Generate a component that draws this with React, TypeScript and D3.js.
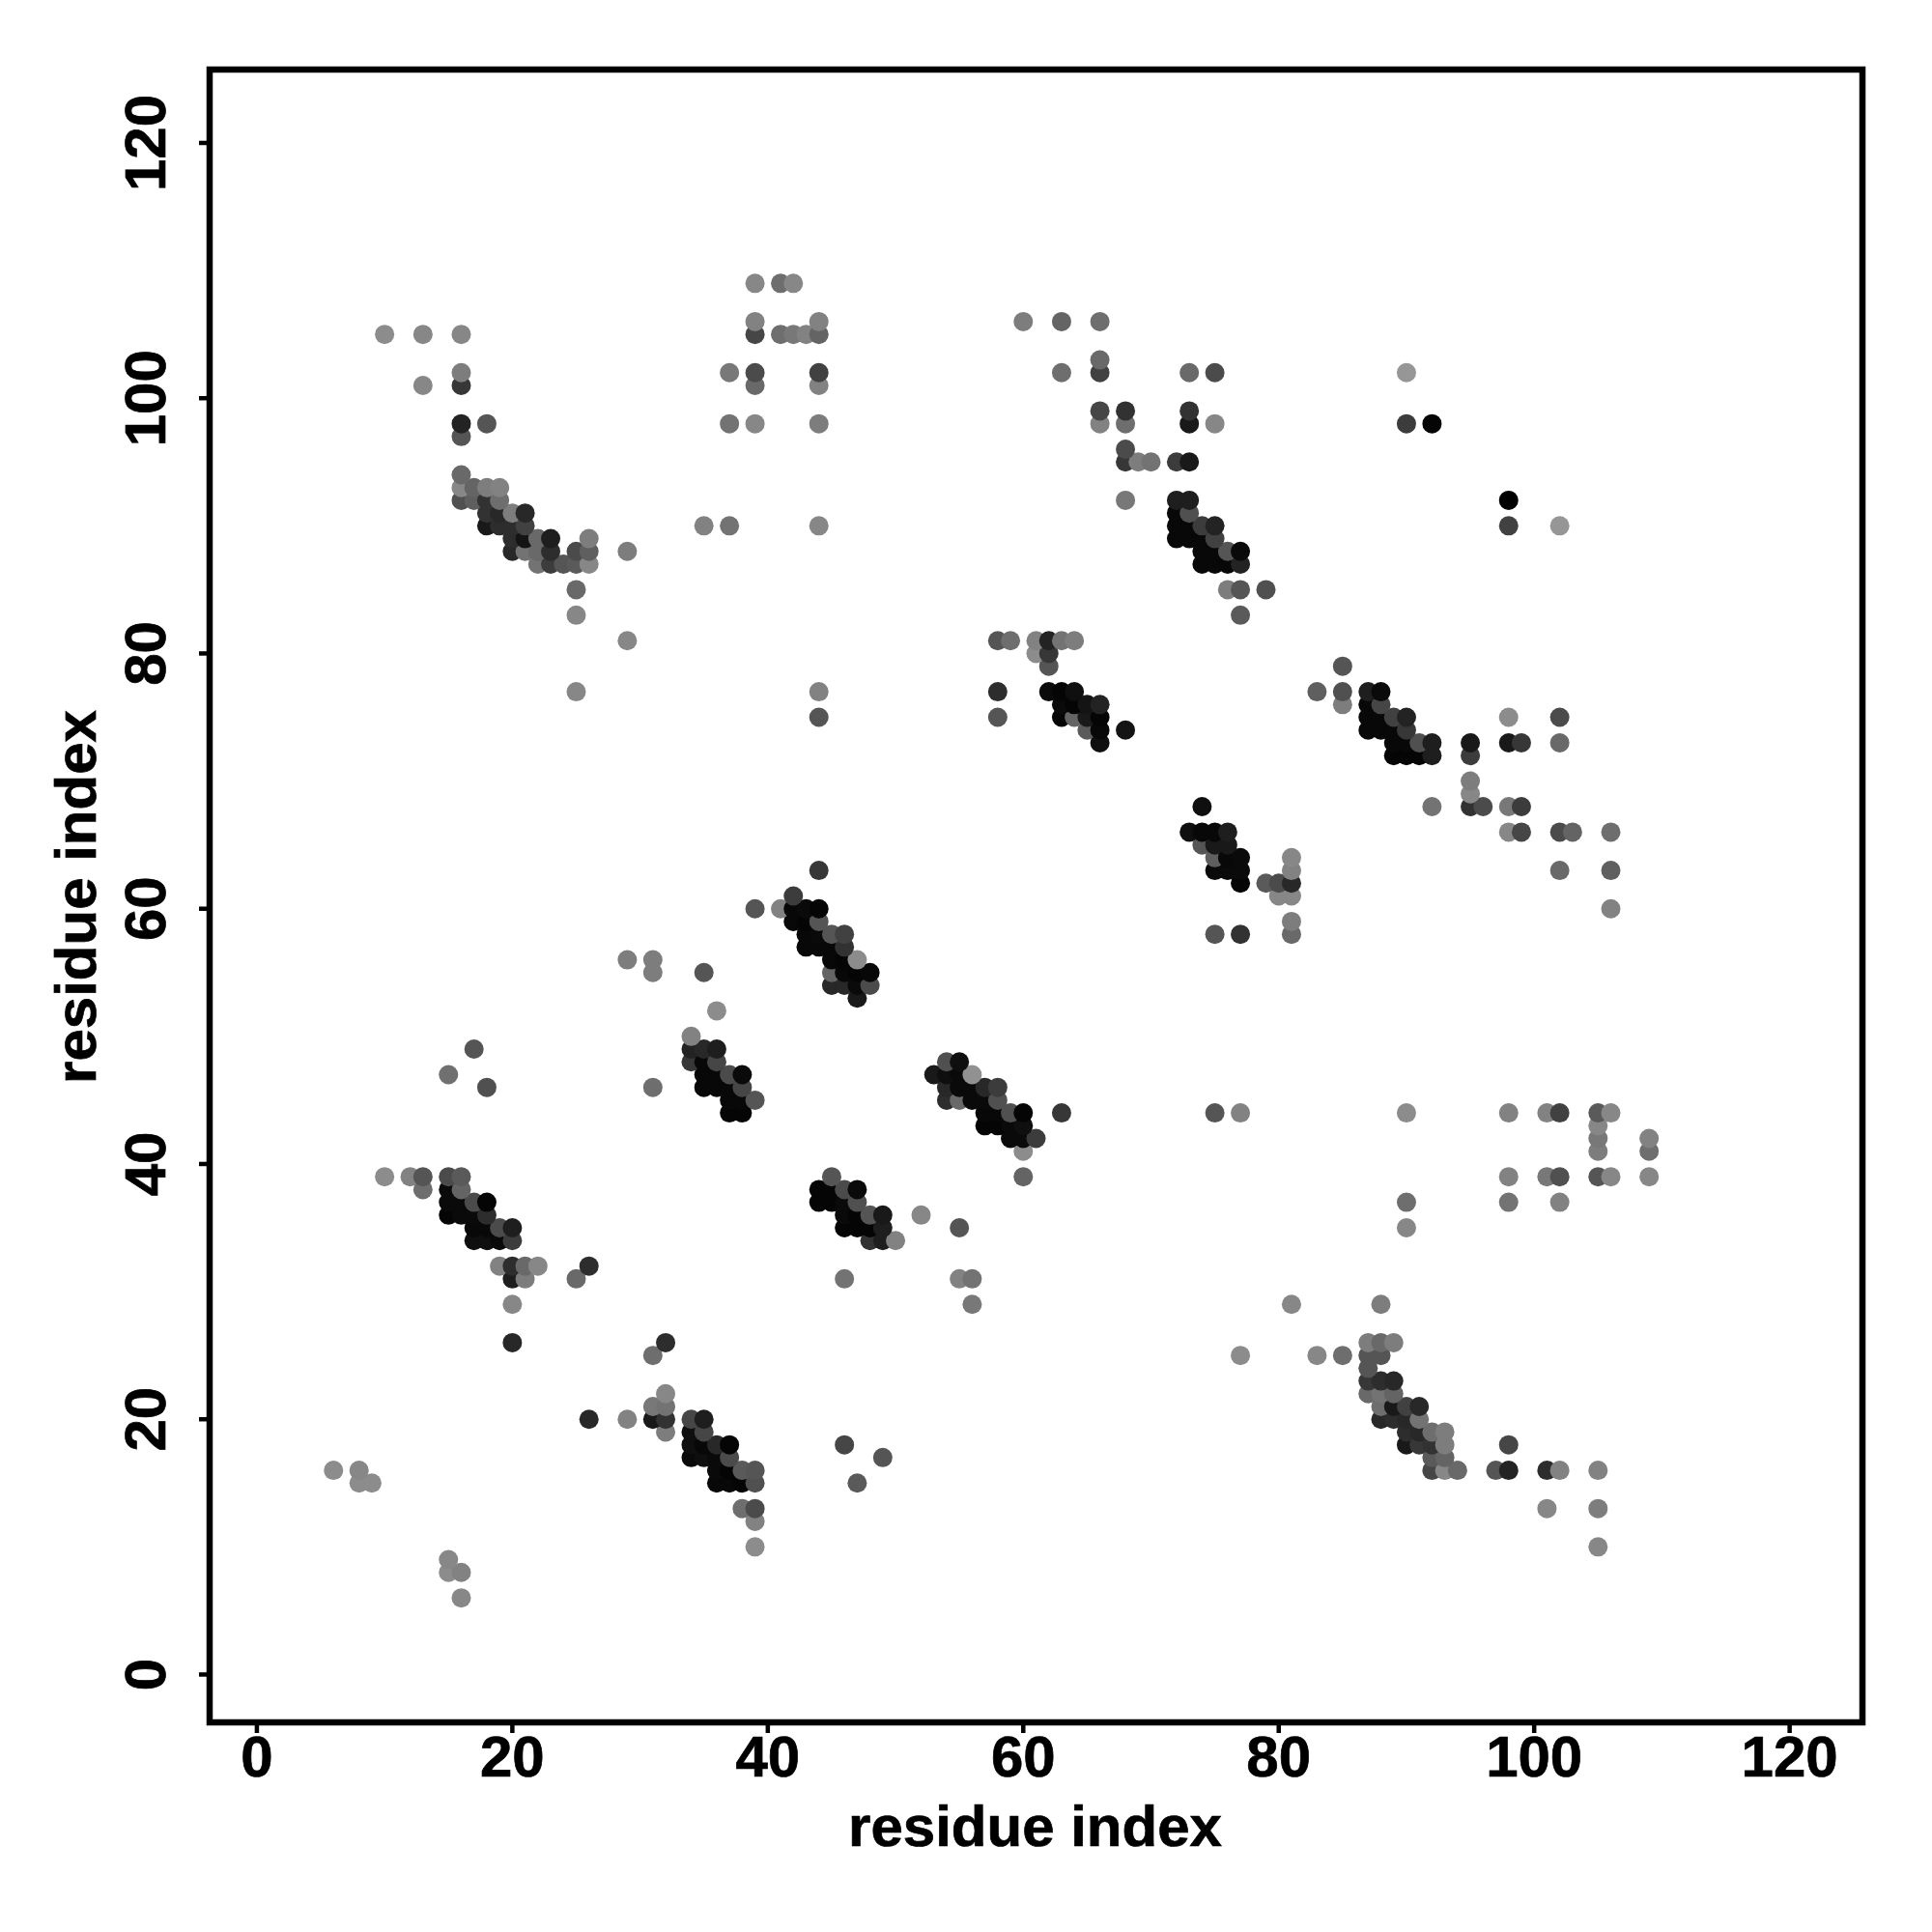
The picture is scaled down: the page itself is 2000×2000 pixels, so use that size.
import React from "react";
import * as d3 from "d3";

type C = [number, number, number];

const xTickValues = [0, 20, 40, 60, 80, 100, 120];
const yTickValues = [0, 20, 40, 60, 80, 100, 120];
const axisTitle = "residue index";

// each contact: residue i, residue j, grey level
const lowerLeft: C[] = [[6,16,140],[8,16,135],[8,15,140],[9,15,140],[15,9,135],[15,8,140],[16,8,130],[16,6,135],[15,47,112],[17,49,85],[18,46,80],[31,46,110],[36,52,140],[10,39,140],[12,39,130],[13,39,85],[13,38,110]];
const clusterE1: C[] = [[15,39,75],[16,39,90],[15,38,10],[16,38,100],[15,37,10],[16,37,10],[17,37,75],[18,37,5],[15,36,5],[16,36,10],[17,36,10],[18,36,45],[17,35,8],[18,35,8],[19,35,75],[20,35,30],[17,34,15],[18,34,15],[19,34,10],[20,34,60],[19,32,130],[20,32,45],[21,32,105],[22,32,135],[20,31,30],[21,31,125],[20,29,135],[20,26,40],[25,31,105],[26,32,45]];
const clusterE2: C[] = [[45,39,85],[44,38,5],[45,38,5],[46,38,75],[47,38,10],[44,37,5],[45,37,5],[46,37,10],[47,37,80],[46,36,10],[47,36,5],[48,36,85],[49,36,25],[46,35,5],[47,35,5],[48,35,5],[49,35,30],[48,34,50],[49,34,30],[50,34,130],[52,36,135],[55,35,85],[46,31,115],[55,31,130],[56,31,115],[56,29,120]];
const clusterF: C[] = [[34,20,70],[35,20,30],[34,19,15],[35,19,70],[34,18,15],[35,18,8],[36,18,40],[37,18,5],[34,17,10],[35,17,15],[36,17,10],[37,17,75],[36,16,10],[37,16,5],[38,16,90],[39,16,85],[36,15,8],[37,15,8],[38,15,5],[39,15,80],[38,13,110],[39,13,75],[39,12,130],[39,10,140],[26,20,40],[29,20,130],[31,20,25],[32,20,50],[31,21,120],[32,21,115],[32,22,135],[32,19,125],[31,25,110],[32,26,45],[46,18,70],[47,15,90],[49,17,85]];
const clusterD1: C[] = [[34,50,130],[34,49,35],[35,49,40],[36,49,30],[34,48,55],[35,48,8],[36,48,70],[35,47,8],[36,47,8],[37,47,75],[38,47,10],[35,46,8],[36,46,8],[37,46,8],[38,46,70],[37,45,8],[38,45,8],[39,45,85],[37,44,5],[38,44,5]];
const clusterD2: C[] = [[54,48,80],[55,48,15],[53,47,25],[54,47,15],[55,47,10],[56,47,145],[54,46,40],[55,46,10],[56,46,10],[57,46,40],[58,46,60],[54,45,45],[55,45,105],[56,45,10],[57,45,10],[58,45,80],[57,44,8],[58,44,8],[59,44,80],[60,44,5],[57,43,5],[58,43,5],[59,43,10],[60,43,15],[59,42,10],[60,42,10],[61,42,60],[60,41,140],[60,39,100],[63,44,55]];
const rightMiddle: C[] = [[75,44,85],[77,44,130],[90,44,140],[98,44,130],[101,44,130],[102,44,65],[105,44,90],[106,44,135],[105,43,135],[105,42,120],[105,41,125],[109,42,130],[109,41,110],[98,39,130],[101,39,120],[102,39,80],[105,39,85],[106,39,135],[109,39,135],[90,37,110],[90,35,135],[98,37,115],[102,37,130],[81,29,135],[88,29,125],[77,25,140],[83,25,135],[85,25,110]];
const clusterG: C[] = [[87,26,125],[88,26,105],[89,26,125],[87,25,85],[88,25,85],[87,24,85],[87,23,55],[88,23,45],[89,23,40],[87,22,105],[88,22,115],[89,22,100],[88,21,110],[89,21,25],[90,21,65],[91,21,40],[88,20,40],[89,20,45],[90,20,40],[91,20,115],[90,19,45],[91,19,40],[92,19,110],[93,19,125],[90,18,25],[91,18,55],[92,18,50],[93,18,125],[92,17,90],[93,17,100],[92,16,70],[93,16,135],[94,16,105],[97,16,85],[98,16,35],[98,18,70],[101,16,45],[102,16,130],[105,16,130],[101,13,135],[105,13,125],[105,10,135]];
const clusterC: C[] = [[42,61,60],[41,60,130],[42,60,8],[43,60,10],[44,60,5],[42,59,8],[43,59,5],[44,59,85],[43,58,8],[44,58,10],[45,58,85],[46,58,65],[43,57,8],[44,57,8],[45,57,8],[46,57,50],[45,56,8],[46,56,5],[47,56,140],[45,55,100],[46,55,8],[47,55,5],[48,55,8],[45,54,40],[46,54,40],[47,54,10],[48,54,75],[47,53,25],[44,63,55],[39,60,85],[29,56,125],[31,56,125],[31,55,125],[35,55,85]];
const clusterA: C[] = [[10,105,140],[13,105,135],[16,105,135],[13,101,135],[16,102,125],[16,101,55],[16,98,35],[18,98,85],[16,97,85],[16,94,105],[16,93,135],[17,93,100],[18,93,125],[19,93,130],[16,92,80],[17,92,95],[18,92,50],[19,92,110],[18,91,50],[19,91,40],[20,91,125],[21,91,40],[18,90,25],[19,90,45],[20,90,45],[21,90,65],[20,89,45],[21,89,20],[22,89,105],[23,89,30],[26,89,125],[20,88,40],[21,88,115],[22,88,105],[23,88,45],[25,88,75],[26,88,95],[22,87,115],[23,87,60],[24,87,85],[25,87,90],[26,87,135],[25,85,105],[25,83,135],[25,77,135],[29,88,125],[29,81,135]];
const topMiddle: C[] = [[35,90,130],[37,90,115],[44,90,135],[44,77,130],[44,75,85],[39,109,135],[41,109,110],[42,109,135],[39,106,130],[39,105,70],[41,105,110],[42,105,120],[43,105,130],[44,105,100],[44,106,130],[37,102,120],[39,102,75],[44,102,65],[39,101,105],[44,101,130],[37,98,115],[39,98,135],[44,98,125]];
const topRight: C[] = [[60,106,125],[63,106,100],[66,106,110],[66,103,105],[63,102,110],[66,102,65],[73,102,105],[75,102,75],[66,99,70],[66,98,130],[68,99,50],[68,98,110],[73,99,50],[73,98,25],[75,98,135],[90,102,150],[90,98,60],[92,98,5],[68,96,75],[68,95,55],[69,95,125],[70,95,115],[72,95,60],[73,95,25],[68,92,120],[98,92,0],[98,90,65],[102,90,150]];
const clusterB: C[] = [[72,92,30],[73,92,30],[72,91,8],[73,91,80],[72,90,8],[73,90,8],[74,90,60],[75,90,35],[72,89,8],[73,89,8],[74,89,8],[75,89,65],[74,88,8],[75,88,8],[76,88,85],[77,88,10],[74,87,8],[75,87,8],[76,87,8],[77,87,35],[76,85,125],[77,85,85],[79,85,80],[77,83,90]];
const cluster62: C[] = [[62,77,10],[63,77,5],[64,77,15],[63,76,10],[64,76,5],[65,76,20],[66,76,35],[63,75,5],[64,75,100],[65,75,25],[66,75,5],[65,74,90],[66,74,8],[68,74,20],[66,73,15],[58,81,85],[59,81,110],[61,81,130],[62,81,35],[63,81,115],[64,81,125],[61,80,140],[62,80,55],[62,79,85],[58,77,45],[58,75,85]];
const clusterH: C[] = [[83,77,95],[85,77,80],[85,76,125],[87,77,30],[88,77,10],[87,76,8],[88,76,70],[87,75,8],[88,75,8],[89,75,65],[90,75,35],[87,74,8],[88,74,8],[89,74,8],[90,74,55],[89,73,8],[90,73,8],[91,73,80],[92,73,30],[89,72,5],[90,72,5],[91,72,5],[92,72,30],[85,79,85],[95,73,25],[95,72,60],[98,75,140],[98,73,25],[99,73,55],[102,75,75],[102,73,105],[95,70,125],[95,69,135],[95,68,50],[96,68,75],[92,68,115],[98,68,120],[99,68,60],[98,66,135],[99,66,70],[102,66,75],[103,66,100],[106,66,110],[102,63,105],[106,63,95],[106,60,130]];
const cluster73: C[] = [[74,68,15],[73,66,15],[74,66,8],[75,66,8],[76,66,30],[74,65,85],[75,65,25],[76,65,25],[75,64,95],[76,64,8],[77,64,10],[75,63,10],[76,63,10],[77,63,10],[77,62,5],[79,62,90],[80,62,75],[81,62,40],[81,64,135],[81,63,130],[80,61,135],[81,61,135],[81,59,125],[81,58,105],[75,58,85],[77,58,50]];

const contacts: C[] = [lowerLeft, clusterE1, clusterE2, clusterF, clusterD1, clusterD2, rightMiddle, clusterG, clusterC, clusterA, topMiddle, topRight, clusterB, cluster62, clusterH, cluster73]
  .flat()
  .sort((a, b) => a[1] - b[1] || a[0] - b[0]);

const frame = { left: 217, right: 1928, top: 72, bottom: 1783 };
const x = d3.scaleLinear().domain([-3.7, 125.7]).range([frame.left, frame.right]);
const y = d3.scaleLinear().domain([-3.75, 125.75]).range([frame.bottom, frame.top]);
const font = '"Liberation Sans", Arial, sans-serif';

export default function App() {
  return (
    <svg width={2000} height={2000} viewBox="0 0 2000 2000" style={{ position: "absolute", left: 0, top: 0, background: "#fff" }}>
      <g>
        {contacts.map(([i, j, g], k) => (
          <circle key={k} cx={x(i)} cy={y(j)} r={10} fill={d3.rgb(g, g, g).formatHex()} />
        ))}
      </g>
      <rect x={frame.left} y={frame.top} width={frame.right - frame.left} height={frame.bottom - frame.top} fill="none" stroke="#000" strokeWidth={6.5} />
      <g fontFamily={font} fontWeight="bold" fontSize={60} fill="#000" stroke="#000" strokeWidth={0.7}>
        {xTickValues.map((t) => (
          <g key={t}>
            <line x1={x(t)} x2={x(t)} y1={frame.bottom} y2={frame.bottom + 11} stroke="#000" strokeWidth={4.5} />
            <text x={x(t)} y={1839} textAnchor="middle">{t}</text>
          </g>
        ))}
        {yTickValues.map((t) => (
          <g key={t}>
            <line x1={frame.left} x2={frame.left - 11} y1={y(t)} y2={y(t)} stroke="#000" strokeWidth={4.5} />
            <text transform={`translate(171,${y(t)}) rotate(-90)`} textAnchor="middle">{t}</text>
          </g>
        ))}
        <text x={(frame.left + frame.right) / 2 - 1} y={1911} textAnchor="middle">{axisTitle}</text>
        <text transform={`translate(99,${(frame.top + frame.bottom) / 2 + 1}) rotate(-90)`} textAnchor="middle">{axisTitle}</text>
      </g>
    </svg>
  );
}
